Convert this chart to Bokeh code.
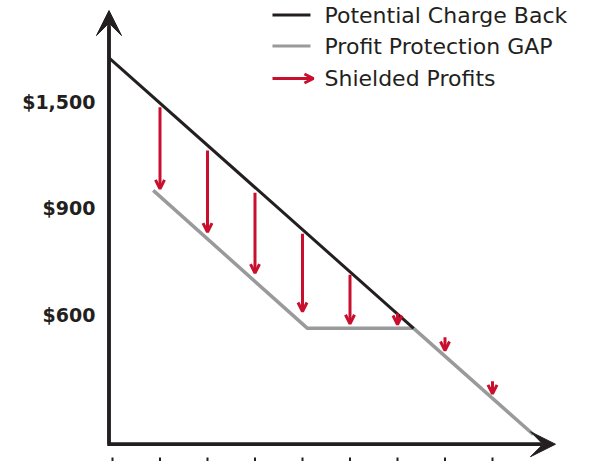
from bokeh.plotting import figure
from bokeh.models import Range1d, Arrow, VeeHead, OpenHead, ColumnDataSource
from bokeh.core.properties import value
from bokeh.embed import file_html
from bokeh.resources import INLINE

# ---- data (x in tick units, y in label levels) ----
x_ticks = [0, 1, 2, 3, 4, 5, 6, 7, 8]
y_levels = [3, 2, 1]
y_labels = ["$1,500", "$900", "$600"]

charge_back_x = [-0.074, 6.34]
charge_back_y = [3.41, 0.87]

gap_x = [0.857, 4.105, 6.34, 8.86]
gap_y = [2.165, 0.87, 0.87, -0.127]

shield_x = [1, 2, 3, 4, 5, 6, 7, 8]
shield_top = [2.946, 2.540, 2.143, 1.758, 1.373, 1.012, 0.787, 0.374]
shield_tip = [2.180, 1.773, 1.388, 1.028, 0.913, 0.906, 0.662, 0.255]

legend_labels = ["Potential Charge Back", "Profit Protection GAP", "Shielded Profits"]

# axes geometry
x_origin = -0.074
y_origin = -0.218
y_axis_tip = 3.854
x_axis_tip = 9.326

BLACK = "#231f20"
GRAY = "#999a9c"
RED = "#c8102e"

p = figure(width=592, height=461, output_backend="svg", toolbar_location=None,
           x_range=Range1d(-2.3579, 10.1053), y_range=Range1d(-0.3803, 3.9484),
           min_border=0)
p.axis.visible = False
p.grid.visible = False
p.outline_line_color = None
p.background_fill_color = "white"

# axes
p.line([x_origin, x_origin, x_axis_tip - 0.3], [y_axis_tip - 0.15, y_origin, y_origin],
       line_width=3.5, line_color=BLACK, line_join="miter")
p.add_layout(Arrow(end=VeeHead(size=25, fill_color=BLACK, line_color=BLACK, line_width=1),
                   x_start=x_origin, y_start=y_origin, x_end=x_origin, y_end=y_axis_tip,
                   line_width=3.5, line_color=BLACK))
p.add_layout(Arrow(end=VeeHead(size=25, fill_color=BLACK, line_color=BLACK, line_width=1),
                   x_start=x_origin, y_start=y_origin, x_end=x_axis_tip, y_end=y_origin,
                   line_width=3.5, line_color=BLACK))

# bottom ticks
p.segment(x0=x_ticks, y0=[-0.3427] * len(x_ticks), x1=x_ticks, y1=[-0.40] * len(x_ticks),
          line_width=2, line_color=BLACK)

# y labels
p.text(x=[-0.358] * len(y_levels), y=y_levels, text=y_labels,
       text_font=value("DejaVu Sans"), text_font_style="bold", text_font_size="19px",
       text_align="right", text_baseline="middle", text_color=BLACK)

# series
p.line(gap_x, gap_y, line_width=3.5, line_color=GRAY)
p.line(charge_back_x, charge_back_y, line_width=3, line_color=BLACK)

src = ColumnDataSource(dict(x=shield_x, top=shield_top, tip=shield_tip))
p.add_layout(Arrow(end=OpenHead(size=9, line_width=3, line_color=RED),
                   x_start="x", y_start="top", x_end="x", y_end="tip", source=src,
                   line_width=3, line_color=RED))

# legend (manual)
leg_y = [3.812, 3.521, 3.216]
p.segment(x0=[3.368, 3.368], y0=leg_y[:2], x1=[4.168, 4.168], y1=leg_y[:2],
          line_width=3, line_color=[BLACK, GRAY])
p.add_layout(Arrow(end=OpenHead(size=9, line_width=3, line_color=RED),
                   x_start=3.368, y_start=leg_y[2], x_end=4.23, y_end=leg_y[2],
                   line_width=3, line_color=RED))
p.text(x=[4.463] * 3, y=leg_y, text=legend_labels,
       text_font=value("DejaVu Sans"), text_font_size="22px",
       text_align="left", text_baseline="middle", text_color=BLACK)

open("out.html", "w").write(file_html(p, INLINE))
